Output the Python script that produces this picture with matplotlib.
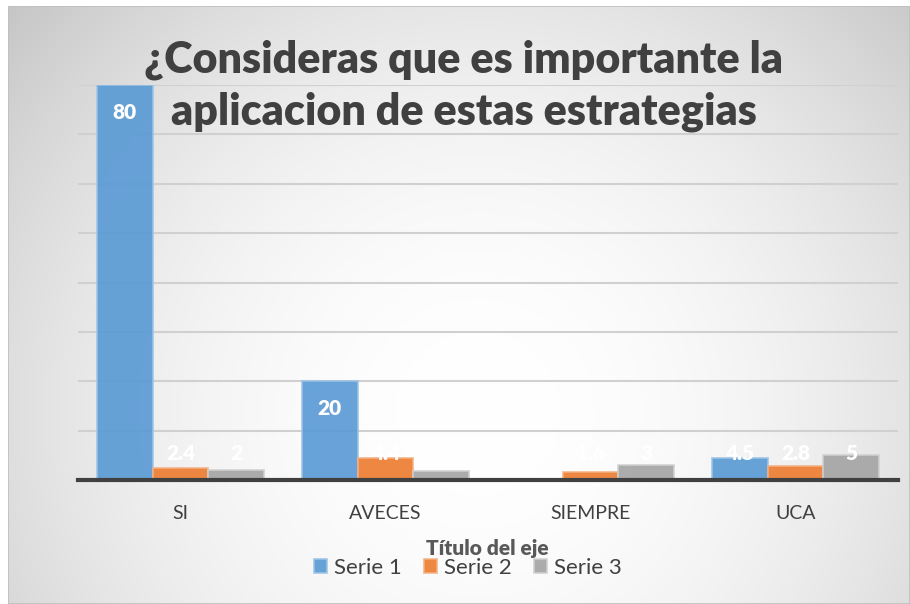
import numpy as np
import matplotlib
matplotlib.use("Agg")
import matplotlib.pyplot as plt
from matplotlib.patches import Rectangle

plt.rcParams['font.family'] = ['Lato', 'DejaVu Sans']

categories = ['SI', 'AVECES', 'SIEMPRE', 'UCA']
serie1 = [80, 20, 0, 4.5]
serie2 = [2.4, 4.4, 1.6, 2.8]
serie3 = [2, 1.8, 3, 5]
series_names = ['Serie 1', 'Serie 2', 'Serie 3']
colors = ['#5B9BD5', '#ED7D31', '#A5A5A5']
edges = ['#9DC3E6', '#F4B183', '#D0D0D0']

title = '¿Consideras que es importante la\naplicacion de estas estrategias'
axis_title = 'Título del eje'

fig = plt.figure(figsize=(9.1, 6.04), dpi=100)
fig.patch.set_facecolor('white')

# fondo con degradado radial
bg = fig.add_axes([8 / 910, 0, 1 - 8 / 910, 1 - 6 / 604])
h, w = 300, 450
yy, xx = np.mgrid[0:h, 0:w]
cx, cy = w * 0.52, h * 0.68
r2 = ((xx - cx) / (w * 0.6)) ** 2 + ((yy - cy) / (h * 0.9)) ** 2
val = 1 - 0.17 * np.clip(r2, 0, 1.4)
img = np.dstack([val, val, val])
bg.imshow(img, aspect='auto', extent=(0, 1, 0, 1), origin='upper')
bg.set_xlim(0, 1)
bg.set_ylim(0, 1)
bg.axis('off')
bg.add_patch(Rectangle((0, 0), 1, 1, fill=False, edgecolor='#bfbfbf', lw=1.2,
                       transform=bg.transAxes))

ax = fig.add_axes([78 / 910, 1 - 480 / 604, 820 / 910, (480 - 85) / 604])
ax.patch.set_alpha(0)
x = np.arange(len(categories))
bw = 0.273
all_series = [serie1, serie2, serie3]
for i, vals in enumerate(all_series):
    pos = x + (i - 1) * bw
    ax.bar(pos, vals, width=bw, color=colors[i], edgecolor=edges[i], linewidth=1.2,
           alpha=0.92, label=series_names[i], zorder=3)
    for px, v in zip(pos, vals):
        if v == 0:
            continue
        if v >= 10:
            ax.annotate(f'{v:g}', (px, v), xytext=(0, -19.5), textcoords='offset points',
                        ha='center', va='center', color='white', fontsize=15,
                        fontweight='heavy', zorder=5)
        else:
            ax.text(px, 5.3, f'{v:g}', ha='center', va='center', color='white',
                    fontsize=15, fontweight='heavy', zorder=5)

ax.set_xlim(-0.5, 3.5)
ax.set_ylim(0, 80)
ax.set_yticks(np.arange(0, 81, 10))
ax.set_yticklabels([])
ax.tick_params(axis='y', length=0)
ax.yaxis.grid(True, color='#d0d0d0', lw=1.5, zorder=0)
ax.set_axisbelow(True)
for s in ['top', 'right', 'left']:
    ax.spines[s].set_visible(False)
ax.spines['bottom'].set_color('#404040')
ax.spines['bottom'].set_linewidth(3)
ax.spines['bottom'].set_zorder(6)
ax.set_xticks(x)
ax.set_xticklabels(categories, color='#404040', fontsize=14)
ax.tick_params(axis='x', length=0, pad=18)

fig.text(464 / 910, 1 - 86 / 604, title, ha='center', va='center', fontsize=31,
         fontweight='heavy', color='#404040', linespacing=1.35)
fig.text(487 / 910, 1 - 548 / 604, axis_title, ha='center', va='center', fontsize=15,
         fontweight='heavy', color='#595959')

handles, labels = ax.get_legend_handles_labels()
fig.legend(handles, labels, loc='center', bbox_to_anchor=(468 / 910, 1 - 568 / 604),
           ncol=3, frameon=False, fontsize=16, handlelength=0.6, handleheight=0.6,
           handletextpad=0.3, columnspacing=1.0, labelcolor='#404040')

fig.savefig('out.png', dpi=100)
